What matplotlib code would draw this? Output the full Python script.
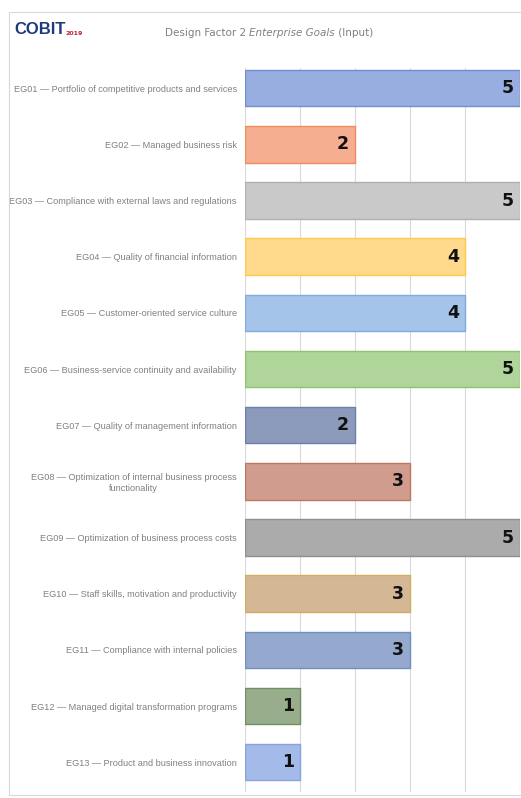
import matplotlib.pyplot as plt
from matplotlib.patches import Rectangle

# Dados
objetivos = [
    'EG01 — Portfolio of competitive products and services',
    'EG02 — Managed business risk',
    'EG03 — Compliance with external laws and regulations',
    'EG04 — Quality of financial information',
    'EG05 — Customer-oriented service culture',
    'EG06 — Business-service continuity and availability',
    'EG07 — Quality of management information',
    'EG08 — Optimization of internal business process\nfunctionality',
    'EG09 — Optimization of business process costs',
    'EG10 — Staff skills, motivation and productivity',
    'EG11 — Compliance with internal policies',
    'EG12 — Managed digital transformation programs',
    'EG13 — Product and business innovation',
]
valores = [5, 2, 5, 4, 4, 5, 2, 3, 5, 3, 3, 1, 1]

cores = ['#98aee0', '#f5ae90', '#c9c9c9', '#ffd98c', '#a5c4ea', '#afd59a', '#8c9bbb',
         '#cf9c8e', '#ababab', '#d4b896', '#94a9cd', '#98ad8c', '#a4bae8']
bordas = ['#6f8fd0', '#ef8c5e', '#b0b0b0', '#ffc94a', '#7fabe0', '#8cc46e', '#6b7fa8',
          '#c0755e', '#8f8f8f', '#d2ad5c', '#6f8fbf', '#6f9060', '#86a3e0']

fonte = 'Liberation Sans'

fig = plt.figure(figsize=(5.21, 7.98), dpi=100)

# moldura
fig.patches.append(Rectangle((9 / 521, 0.004), 1.2, 1 - 12 / 798 - 0.004,
                             transform=fig.transFigure, fill=False,
                             edgecolor='#d9d9d9', linewidth=0.8))

ax = fig.add_axes([245 / 521, 6 / 798, 275 / 521, (792 - 68) / 798])
pos = list(range(len(valores)))
ax.barh(pos, valores, height=0.65, color=cores, edgecolor=bordas, linewidth=1.0, zorder=3)

for y, v in zip(pos, valores):
    ax.text(v - 0.11, y, str(v), ha='right', va='center', fontsize=12.5,
            fontweight='bold', color='#111111', family='DejaVu Sans', zorder=4)

ax.set_xlim(0, 5)
ax.set_ylim(12.53, -0.36)
ax.set_xticks([0, 1, 2, 3, 4, 5])
ax.grid(axis='x', color='#d9d9d9', linewidth=0.8, zorder=0)
ax.set_yticks(pos)
ax.set_yticklabels(objetivos, fontsize=6.6, color='#808080',
                   family=fonte, multialignment='center')
ax.tick_params(axis='both', length=0, pad=6)
ax.tick_params(axis='x', labelbottom=False)
for s in ax.spines.values():
    s.set_visible(False)

# titulo
t1 = fig.text(165 / 521, 1 - 33 / 798, 'Design Factor 2 ', fontsize=7.5, color='#808080',
              va='center', ha='left')
a2 = ax.annotate('Enterprise Goals', xy=(1, 0.5), xycoords=t1, va='center', ha='left',
                 fontsize=7.5, color='#808080', style='italic')
ax.annotate(' (Input)', xy=(1, 0.5), xycoords=a2, va='center', ha='left',
            fontsize=7.5, color='#808080')

# logo
lg = fig.text(14 / 521, 1 - 30 / 798, 'COBIT', fontsize=12, fontweight='bold',
              color='#1f3a7a', va='center', ha='left', family=fonte)
ax.annotate('2019', xy=(1, 0.12), xycoords=lg, va='bottom', ha='left',
            fontsize=4.5, fontweight='bold', color='#c0223b')

fig.savefig('out.png', dpi=100)
